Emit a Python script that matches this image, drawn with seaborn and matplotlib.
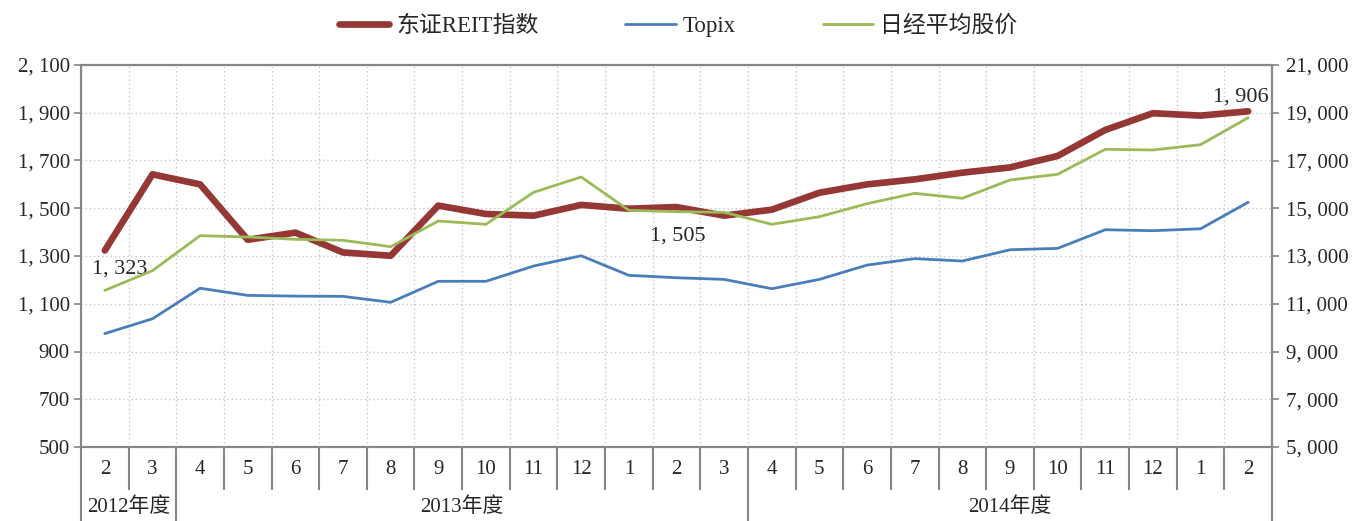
import numpy as np
import pandas as pd
import matplotlib
matplotlib.use("Agg")
import matplotlib.pyplot as plt
import seaborn as sns
from matplotlib.lines import Line2D
import matplotlib.transforms as mtrans

# ---------------- data ----------------
months = ["2", "3", "4", "5", "6", "7", "8", "9", "10", "11", "12", "1", "2", "3",
          "4", "5", "6", "7", "8", "9", "10", "11", "12", "1", "2"]
fiscal_years = ["2012年度", "2013年度", "2014年度"]
year_spans = [2, 12, 11]

reit = [1323, 1642, 1600, 1368, 1398, 1315, 1301, 1511, 1476, 1469, 1514, 1498,
        1505, 1469, 1494, 1565, 1600, 1621, 1649, 1671, 1719, 1828, 1898, 1888, 1906]
topix = [975, 1037, 1165, 1135, 1132, 1131, 1106, 1194, 1194, 1258, 1301, 1219,
         1209, 1202, 1163, 1202, 1262, 1289, 1279, 1326, 1332, 1410, 1406, 1414, 1525]
nikkei = [11560, 12385, 13852, 13796, 13699, 13657, 13390, 14466, 14327, 15667,
          16309, 14913, 14857, 14829, 14327, 14646, 15192, 15626, 15417, 16183,
          16422, 17469, 17440, 17663, 18793]

series_names = ["东证REIT指数", "Topix", "日经平均股价"]
left_ticks = [500, 700, 900, 1100, 1300, 1500, 1700, 1900, 2100]
right_ticks = [5000, 7000, 9000, 11000, 13000, 15000, 17000, 19000, 21000]
labeled_points = [0, 12, 24]

# ---------------- style ----------------
sns.set_style("white")
plt.rcParams["font.family"] = ["Liberation Serif", "Noto Sans CJK SC"]
plt.rcParams["font.size"] = 15

c_reit = "#953735"
c_topix = "#4A7EBB"
c_nikkei = "#9BBB59"
gray = "#868686"

df = pd.DataFrame({"x": np.arange(len(months)), "reit": reit,
                   "topix": topix, "nikkei": nikkei})

W, H = 1356, 521
fig = plt.figure(figsize=(W / 100, H / 100), dpi=100)
L, R, T, B = 81, 1272, 65, 447
ax = fig.add_axes([L / W, 1 - B / H, (R - L) / W, (B - T) / H])
ax2 = ax.twinx()

sns.lineplot(data=df, x="x", y="topix", ax=ax, color=c_topix, linewidth=2.0,
             legend=False, zorder=3)
sns.lineplot(data=df, x="x", y="reit", ax=ax, color=c_reit, linewidth=4.8,
             legend=False, zorder=4, solid_capstyle="round")
sns.lineplot(data=df, x="x", y="nikkei", ax=ax2, color=c_nikkei, linewidth=2.0,
             legend=False, zorder=3)

n = len(months)
ax.set_xlim(-0.5, n - 0.5)
ax.set_ylim(left_ticks[0], left_ticks[-1])
ax2.set_ylim(right_ticks[0], right_ticks[-1])

def fmt(v):
    return f"{v:,}".replace(",", ", ")

ax.set_yticks(left_ticks)
ax.set_yticklabels([fmt(v) for v in left_ticks])
ax2.set_yticks(right_ticks)
ax2.set_yticklabels([fmt(v) for v in right_ticks])
ax.set_xticks(np.arange(n))
ax.set_xticklabels(months)
ax.set_xticks(np.arange(-0.5, n, 1), minor=True)
ax.set_xlabel("")
ax.set_ylabel("")
ax2.set_ylabel("")

ax.tick_params(axis="x", which="both", length=0, pad=9, labelsize=15)
ax.tick_params(axis="y", length=5, width=1.2, color=gray, direction="out", pad=3,
               labelsize=15)
ax2.tick_params(axis="y", length=5, width=1.2, color=gray, direction="out", pad=5,
                labelsize=15)

ax.grid(True, axis="y", which="major", linestyle=(0, (1, 2)), color="#C8C8C8", linewidth=1)
ax.grid(True, axis="x", which="minor", linestyle=(0, (1, 2)), color="#C8C8C8", linewidth=1)
ax.grid(False, axis="x", which="major")
ax2.grid(False)
ax.set_axisbelow(True)

for a in (ax, ax2):
    for s in a.spines.values():
        s.set_color(gray)
        s.set_linewidth(1.5)
        s.set_visible(True)

# category separators under the axis
trans = mtrans.blended_transform_factory(ax.transData, ax.transAxes)
month_depth = -(490 - B) / (B - T)
year_depth = -(H - B) / (B - T)
year_bounds = np.cumsum([0] + year_spans) - 0.5
for k in np.arange(-0.5, n, 1):
    depth = year_depth if np.any(np.isclose(year_bounds, k)) else month_depth
    ax.plot([k, k], [0, depth], transform=trans, color=gray, linewidth=1.5,
            clip_on=False, solid_capstyle="butt")

start = -0.5
for name, span in zip(fiscal_years, year_spans):
    center = start + span / 2
    ax.text(center, -(507 - B) / (B - T), name, transform=trans, ha="center",
            va="center", fontsize=15)
    start += span

# data labels
offsets = {0: (11, -13), 12: (1, -21), 24: (-5, 10.5)}
for i in labeled_points:
    ax.annotate(fmt(reit[i]), (i, reit[i]), xytext=offsets[i],
                textcoords="offset points", ha="center", va="center",
                fontsize=16, zorder=6)

handles = [Line2D([], [], color=c_reit, linewidth=4.8, solid_capstyle="round"),
           Line2D([], [], color=c_topix, linewidth=2.0),
           Line2D([], [], color=c_nikkei, linewidth=2.0)]
fig.legend(handles, series_names, loc="center", bbox_to_anchor=(0.5, 1 - 26 / H),
           ncol=3, frameon=False, fontsize=16.5, handlelength=2.2,
           handletextpad=0.3, columnspacing=3.8)

fig.savefig("out.png", dpi=100)
